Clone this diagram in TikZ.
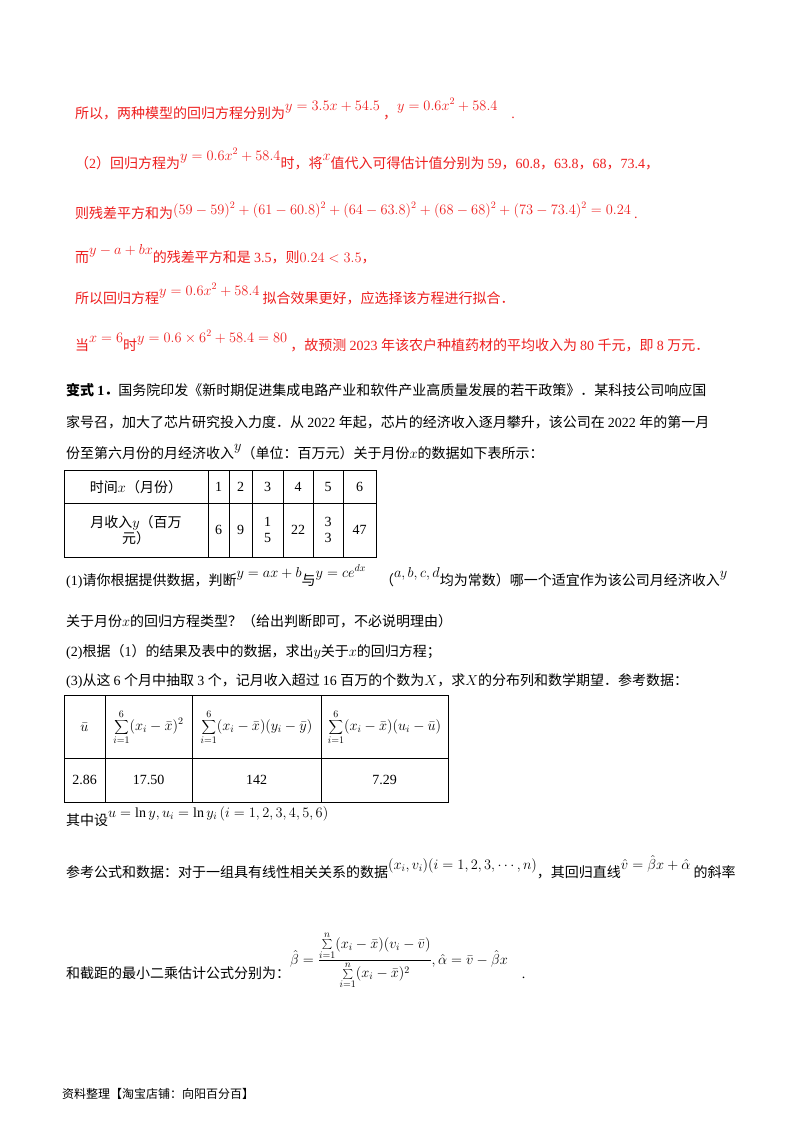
\documentclass[tikz,border=0pt]{standalone}
\usepackage{fontspec}
\setmainfont{Liberation Serif}
\newfontfamily\cjk{Noto Sans CJK SC}
\XeTeXinterchartokenstate=1
\newXeTeXintercharclass\CJKcls
\newcount\cc
\def\setcls#1#2{\cc=#1\relax\loop\XeTeXcharclass\cc=\CJKcls\relax\advance\cc by 1\relax\ifnum\cc<#2\repeat}
\setcls{"4E00}{"A000}
\setcls{"3000}{"3040}
\setcls{"FF00}{"FFF0}
\XeTeXinterchartoks 0 \CJKcls = {\cjk}
\XeTeXinterchartoks 4095 \CJKcls = {\cjk}
\XeTeXinterchartoks \CJKcls 0 = {\rmfamily}
\XeTeXinterchartoks 4095 0 = {\rmfamily}
\definecolor{ans}{RGB}{238,30,30}
\newcommand{\up}[1]{\raisebox{8pt}{#1}}
\tikzset{line/.style={anchor=base west,inner sep=0pt,font=\fontsize{14}{17}\selectfont},
  cell/.style={inner sep=0pt,font=\fontsize{14}{16}\selectfont,align=center}}
\begin{document}
\begin{tikzpicture}[x=1pt,y=-1pt]
\useasboundingbox[fill=white] (0,0) rectangle (800,1132);
\begin{scope}[every node/.style={line,text=ans}]
\node (r1) at (75,118) {所以，两种模型的回归方程分别为\up{$y=3.5x+54.5$}\ ，\up{$y=0.6x^2+58.4$}\quad .};
\node (r2) at (75,168) {（2）回归方程为\up{$y=0.6x^2+58.4$}时，将\up{$x$}值代入可得估计值分别为 59，60.8，63.8，68，73.4，};
\node (r3) at (75,218) {则残差平方和为\raisebox{4pt}{$(59-59)^2+(61-60.8)^2+(64-63.8)^2+(68-68)^2+(73-73.4)^2=0.24$}\ .};
\node (r4) at (75,262) {而\up{$y-a+bx$}的残差平方和是 3.5，则$0.24<3.5$，};
\node (r5) at (75,303) {所以回归方程\up{$y=0.6x^2+58.4$}\ 拟合效果更好，应选择该方程进行拟合．};
\node (r6) at (75,350) {当\up{$x=6$}时\up{$y=0.6\times6^2+58.4=80$}\ ，故预测 2023 年该农户种植药材的平均收入为 80 千元，即 8 万元．};
\end{scope}
\begin{scope}[every node/.style={line}]
\node (b1) at (66,395) {\textbf{变式 1．}国务院印发《新时期促进集成电路产业和软件产业高质量发展的若干政策》．某科技公司响应国};
\node (b2) at (66,427) {家号召，加大了芯片研究投入力度．从 2022 年起，芯片的经济收入逐月攀升，该公司在 2022 年的第一月};
\node (b3) at (66,458) {份至第六月份的月经济收入\up{$y$}（单位：百万元）关于月份$x$的数据如下表所示：};
\node (q1) at (66,585) {(1)请你根据提供数据，判断\up{$y=ax+b$}与\up{$y=ce^{dx}$}\quad（\up{$a,b,c,d$}均为常数）哪一个适宜作为该公司月经济收入\up{$y$}};
\node (q2) at (66,626) {关于月份$x$的回归方程类型？（给出判断即可，不必说明理由）};
\node (q3) at (66,656) {(2)根据（1）的结果及表中的数据，求出$y$关于$x$的回归方程；};
\node (q4) at (66,685) {(3)从这 6 个月中抽取 3 个，记月收入超过 16 百万的个数为$X$，求$X$的分布列和数学期望．参考数据：};
\node (q5) at (66,825) {其中设\up{$u=\ln y,u_i=\ln y_i\,(i=1,2,3,4,5,6)$}};
\node (q6) at (66,877) {参考公式和数据：对于一组具有线性相关关系的数据\up{$(x_i,v_i)(i=1,2,3,\cdots,n)$}，其回归直线\up{$\hat v=\hat\beta x+\hat\alpha$}\ 的斜率};
\node (q7) at (66,978) {和截距的最小二乘估计公式分别为：\raisebox{14pt}{$\displaystyle\hat\beta=\frac{\sum\limits_{i=1}^{n}(x_i-\bar x)(v_i-\bar v)}{\sum\limits_{i=1}^{n}(x_i-\bar x)^2},\hat\alpha=\bar v-\hat\beta x$}\quad .};
\node[font=\fontsize{12}{14}\selectfont] (ft) at (62,1098) {资料整理【淘宝店铺：向阳百分百】};
\end{scope}
% table 1
\draw[thick] (64,470) rectangle (376,557);
\draw (64,503) -- (376,503);
\foreach \x in {208,229,252,283,313,343} \draw (\x,470) -- (\x,557);
\node[cell] (t0) at (136,487) {时间$x$（月份）};
\node[cell] (t1) at (136,530) {月收入$y$（百万\\元）};
\foreach \v/\x in {1/218.5,2/240.5,3/267.5,4/298,5/328,6/359.5} \node[cell] (h\v) at (\x,487) {\v};
\node[cell] (d1) at (218.5,530) {6};
\node[cell] (d2) at (240.5,530) {9};
\node[cell] (d3) at (267.5,530) {1\\5};
\node[cell] (d4) at (298,530) {22};
\node[cell] (d5) at (328,530) {3\\3};
\node[cell] (d6) at (359.5,530) {47};
% table 2
\draw[thick] (64,695) rectangle (448,802);
\draw (64,758) -- (448,758);
\foreach \x in {105,192,321} \draw (\x,695) -- (\x,802);
\node[cell] (u0) at (84.5,727) {$\bar u$};
\node[cell] (u1) at (148.5,727) {$\displaystyle\sum_{i=1}^{6}(x_i-\bar x)^2$};
\node[cell] (u2) at (256.5,727) {$\displaystyle\sum_{i=1}^{6}(x_i-\bar x)(y_i-\bar y)$};
\node[cell] (u3) at (384.5,727) {$\displaystyle\sum_{i=1}^{6}(x_i-\bar x)(u_i-\bar u)$};
\node[cell] (v0) at (84.5,780) {2.86};
\node[cell] (v1) at (148.5,780) {17.50};
\node[cell] (v2) at (256.5,780) {142};
\node[cell] (v3) at (384.5,780) {7.29};
\end{tikzpicture}
\end{document}
